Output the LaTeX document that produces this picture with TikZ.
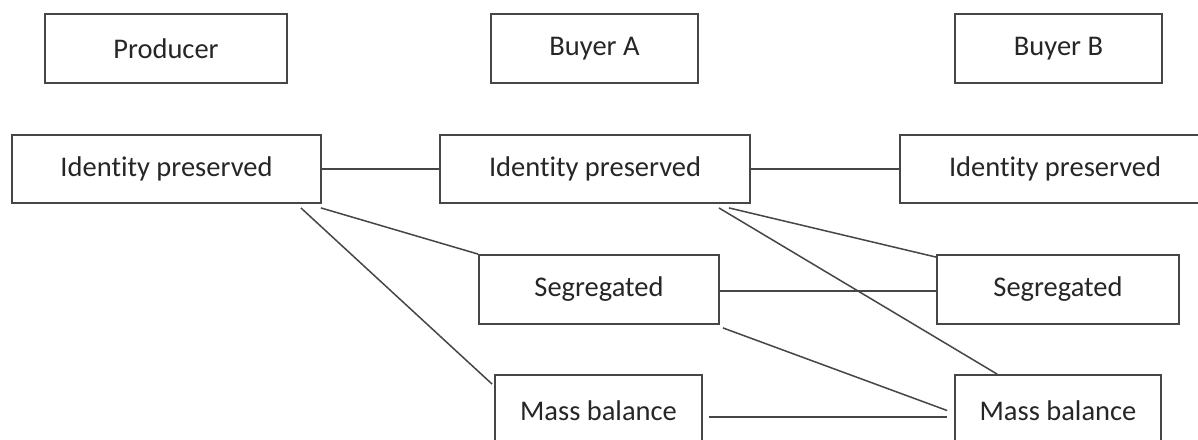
\documentclass[tikz,border=0pt]{standalone}
\usepackage{fontspec}
\setmainfont[Ligatures=NoCommon]{Carlito}
\usetikzlibrary{calc}
\definecolor{edge}{HTML}{464646}
\definecolor{txt}{HTML}{262626}
\tikzset{
  box/.style={draw=edge, line width=1.8pt, rectangle, inner sep=0pt, text=txt,
    font=\fontsize{28.5}{33}\selectfont, minimum height=69pt},
  link/.style={draw=edge, line width=1.5pt}
}
\begin{document}
\begin{tikzpicture}[x=1pt,y=-1pt]
\useasboundingbox (0,0) rectangle (1198,439);
\fill[white] (0,0) rectangle (1198,439);
% top row
\node[box, minimum width=242pt] (prod) at (166,48.5) {Producer};
\node[box, minimum width=207pt] (buya) at (594.5,48.5) {Buyer A};
\node[box, minimum width=207pt] (buyb) at (1058.5,48.5) {Buyer B};
% identity preserved
\node[box, minimum width=309pt, minimum height=68pt] (ip1) at (166.5,169) {Identity preserved};
\node[box, minimum width=310pt, minimum height=68pt] (ip2) at (595,169) {Identity preserved};
\node[box, minimum width=310pt, minimum height=68pt] (ip3) at (1055,169) {Identity preserved};
% segregated
\node[box, minimum width=240pt] (seg2) at (599,289.5) {Segregated};
\node[box, minimum width=242pt] (seg3) at (1058,289.5) {Segregated};
% mass balance
\node[box, minimum width=207pt, minimum height=71pt] (mb2) at (598.5,410.5) {Mass balance};
\node[box, minimum width=206pt, minimum height=71pt] (mb3) at (1058,410.5) {Mass balance};
% connectors
\draw[link] (ip1.east) -- (ip2.west);
\draw[link] (ip2.east) -- (ip3.west);
\draw[link] ($(ip1.south east)+(-1,4)$) -- (seg2.north west);
\draw[link] ($(ip1.south east)+(-21,4)$) -- ($(mb2.north west)+(-2,10)$);
\draw[link] ($(seg2.east)+(0,1.5)$) -- ($(seg3.west)+(0,1.5)$);
\draw[link] ($(seg2.south east)+(3,3)$) -- ($(mb3.west)+(-7,0)$);
\draw[link] ($(mb2.east)+(6,6.5)$) -- ($(mb3.west)+(-7,6.5)$);
\draw[link] ($(ip2.south east)+(-22,4)$) -- ($(seg3.north west)+(0,3)$);
\draw[link] ($(ip2.south east)+(-32,4)$) -- ($(mb3.north west)+(43,0)$);
\end{tikzpicture}
\end{document}
